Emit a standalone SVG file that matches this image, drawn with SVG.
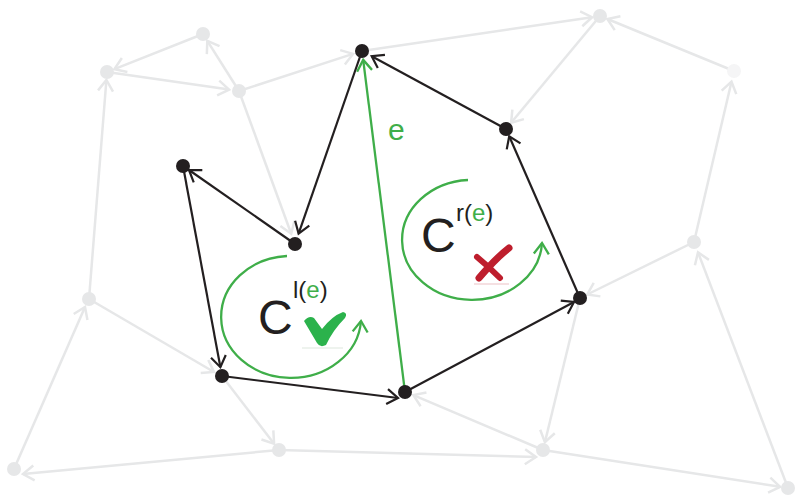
<svg xmlns="http://www.w3.org/2000/svg" width="797" height="498" viewBox="0 0 797 498">
<style>
.g{stroke:#e6e7e8;stroke-width:2.5;fill:none;marker-end:url(#ahg)}
.k{stroke:#231f20;stroke-width:2.2;fill:none;marker-end:url(#ahk)}
.gr{stroke:#3fae49;stroke-width:2.3;fill:none;marker-end:url(#ahgr)}
.gn{fill:#e6e7e8}
.bn{fill:#231f20}
text{font-family:"Liberation Sans",Arial,sans-serif}
.big{font-size:48px;fill:#231f20}
.sup{font-size:24px;fill:#231f20}
.grn{fill:#3fae49}
</style>
<defs>
<marker id="ahg" viewBox="-14 -10 18 20" refX="0" refY="0" markerWidth="18" markerHeight="20" markerUnits="userSpaceOnUse" orient="auto"><path d="M-11,-7.5 L0,0 L-11,7.5" fill="none" stroke="#e6e7e8" stroke-width="2.5"/></marker>
<marker id="ahk" viewBox="-14 -10 18 20" refX="0" refY="0" markerWidth="18" markerHeight="20" markerUnits="userSpaceOnUse" orient="auto"><path d="M-11,-7.5 L0,0 L-11,7.5" fill="none" stroke="#231f20" stroke-width="2.2"/></marker>
<marker id="ahgr" viewBox="-14 -10 18 20" refX="0" refY="0" markerWidth="18" markerHeight="20" markerUnits="userSpaceOnUse" orient="auto"><path d="M-11,-7.5 L0,0 L-11,7.5" fill="none" stroke="#3fae49" stroke-width="2.3"/></marker>
</defs>
<rect width="797" height="498" fill="#ffffff"/>
<g id="connectors">
<line class="g" x1="203" y1="34" x2="114.4" y2="69.1"/>
<line class="g" x1="107" y1="72" x2="229.1" y2="89.6"/>
<line class="g" x1="239" y1="91" x2="207.3" y2="40.8"/>
<line class="g" x1="239" y1="91" x2="353" y2="53.9"/>
<line class="g" x1="239" y1="91" x2="291.2" y2="233.7"/>
<line class="g" x1="89" y1="299" x2="106.4" y2="80"/>
<line class="g" x1="362" y1="51" x2="592.1" y2="17.2"/>
<line class="g" x1="734" y1="71" x2="607.4" y2="19"/>
<line class="g" x1="600" y1="16" x2="511.1" y2="122.8"/>
<line class="g" x1="694" y1="242" x2="731.5" y2="81.7"/>
<line class="g" x1="694" y1="242" x2="587.2" y2="294.5"/>
<line class="g" x1="580" y1="298" x2="544.9" y2="442.2"/>
<line class="g" x1="788" y1="488" x2="698" y2="252.3"/>
<line class="g" x1="543" y1="450" x2="780.1" y2="486.8"/>
<line class="g" x1="543" y1="450" x2="413.4" y2="395.1"/>
<line class="g" x1="279" y1="450" x2="536" y2="457"/>
<line class="g" x1="279" y1="450" x2="23" y2="474"/>
<line class="g" x1="14" y1="469" x2="85" y2="307"/>
<line class="g" x1="89" y1="299" x2="214" y2="372"/>
<line class="g" x1="222" y1="376" x2="274.1" y2="443.7"/>
<line class="k" x1="362" y1="51" x2="298.6" y2="233.6"/>
<line class="k" x1="295" y1="244" x2="189" y2="170"/>
<line class="k" x1="183" y1="166" x2="220.4" y2="367.2"/>
<line class="k" x1="222" y1="376" x2="398" y2="398"/>
<line class="k" x1="405" y1="392" x2="574" y2="302"/>
<line class="k" x1="580" y1="298" x2="509.2" y2="136.3"/>
<line class="k" x1="506" y1="129" x2="371.7" y2="56.2"/>
<line class="gr" x1="405" y1="392" x2="363.2" y2="59.9"/>
</g>
<g id="nodes">
<g id="g1"><circle class="gn" cx="203" cy="34" r="7"/></g>
<g id="g2"><circle class="gn" cx="107" cy="72" r="7"/></g>
<g id="g3"><circle class="gn" cx="239" cy="91" r="7"/></g>
<g id="g4"><circle class="gn" cx="600" cy="16" r="7"/></g>
<g id="g5"><circle cx="734" cy="71" r="7" fill="#f5f5f6"/></g>
<g id="g6"><circle class="gn" cx="694" cy="242" r="7"/></g>
<g id="g7"><circle class="gn" cx="89" cy="299" r="7"/></g>
<g id="g8"><circle class="gn" cx="14" cy="469" r="7"/></g>
<g id="g9"><circle class="gn" cx="279" cy="450" r="7"/></g>
<g id="g10"><circle class="gn" cx="543" cy="450" r="7"/></g>
<g id="g11"><circle class="gn" cx="788" cy="488" r="7"/></g>
<g id="b1"><circle class="bn" cx="362" cy="51" r="7"/></g>
<g id="b2"><circle class="bn" cx="506" cy="129" r="7"/></g>
<g id="b3"><circle class="bn" cx="183" cy="166" r="7"/></g>
<g id="b4"><circle class="bn" cx="295" cy="244" r="7"/></g>
<g id="b5"><circle class="bn" cx="580" cy="298" r="7"/></g>
<g id="b6"><circle class="bn" cx="222" cy="376" r="7"/></g>
<g id="b7"><circle class="bn" cx="405" cy="392" r="7"/></g>
</g>
<g id="label-e"><text x="388" y="140" font-size="30" class="grn">e</text></g>
<g id="cycle-left">
<path d="M287,256 A70,61 0 1 0 361,321" class="gr"/>
<text x="258" y="334" class="big">C</text>
<text x="293" y="298" class="sup">l(<tspan class="grn">e</tspan>)</text>
<path d="M302,348 L343,348" stroke="#e8efe8" stroke-width="1.5"/>
<path d="M304,321 Q309,315 314,318 L322,329 Q332,316 343,312 Q348,313 345,318 Q333,330 326,345 Q320,348 317,343 Z" fill="#2bb24c"/>
</g>
<g id="cycle-right">
<path d="M468,180 A70,60 0 1 0 542,243" class="gr"/>
<text x="421" y="252" class="big">C</text>
<text x="456" y="221" class="sup">r(<tspan class="grn">e</tspan>)</text>
<path d="M474,284 L509,284" stroke="#f2d6d8" stroke-width="1.5"/>
<path d="M509,248 Q496,258 479,278" stroke="#be1e2d" stroke-width="7" stroke-linecap="round" fill="none"/>
<path d="M477,257 Q488,266 500,278" stroke="#be1e2d" stroke-width="6" stroke-linecap="round" fill="none"/>
</g>
</svg>
